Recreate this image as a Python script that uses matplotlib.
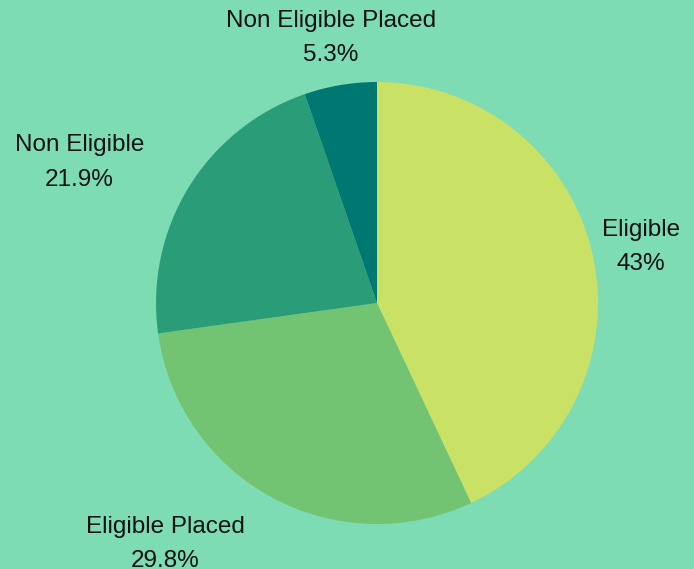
import numpy as np
import matplotlib
matplotlib.use("Agg")
import matplotlib.pyplot as plt

labels = ["Eligible", "Eligible Placed", "Non Eligible", "Non Eligible Placed"]
values = [43.0, 29.8, 21.9, 5.3]
pct_text = ["43%", "29.8%", "21.9%", "5.3%"]
colors = ["#c9e266", "#72c472", "#2a9d78", "#007872"]
bg = "#7ddcb4"

# label nudges (px) from the radial anchor point (to the last line's baseline)
label_nudge = [(35, -18), (-100, -58), (-98, -5), (-7, 11)]

W, H = 694, 569
fig = plt.figure(figsize=(W / 100, H / 100), dpi=100, facecolor=bg)
ax = fig.add_axes([0, 0, 1, 1])
ax.set_facecolor(bg)

cx, cy, R = 377, H - 303, 221
ax.pie(values, colors=colors, startangle=90, counterclock=False,
       radius=R, center=(cx, cy), frame=True,
       wedgeprops=dict(linewidth=0))
ax.set_xlim(0, W)
ax.set_ylim(0, H)
ax.set_aspect("equal")
ax.axis("off")

total = sum(values)
cum = 0
for lab, v, p, (dx, dy) in zip(labels, values, pct_text, label_nudge):
    mid = 90 - (cum + v / 2) / total * 360
    cum += v
    a = np.deg2rad(mid)
    r = R * 1.06
    x, y = cx + r * np.cos(a) + dx, cy + r * np.sin(a) + dy
    ax.text(x, y, f"{lab}\n{p}", ha="center", va="baseline", multialignment="center",
            fontsize=17.5, family=["Liberation Sans", "DejaVu Sans"],
            color="#111111", linespacing=1.72)

fig.savefig("out.png", dpi=100, facecolor=bg)
